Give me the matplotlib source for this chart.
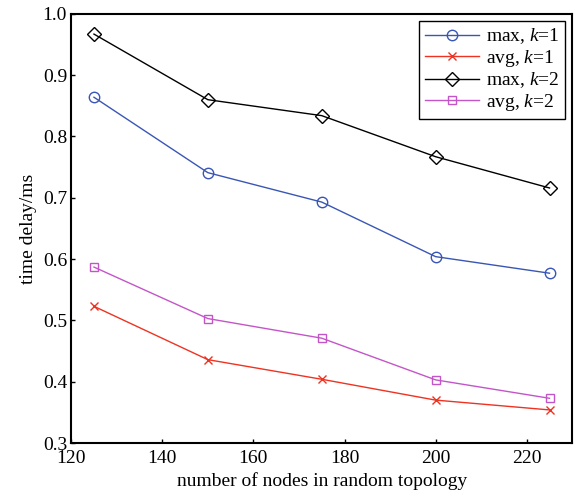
import matplotlib
matplotlib.use("Agg")
import matplotlib.pyplot as plt

# data
nodes = [125, 150, 175, 200, 225]
max_k1 = [0.864, 0.741, 0.693, 0.604, 0.577]
avg_k1 = [0.523, 0.436, 0.404, 0.370, 0.354]
max_k2 = [0.967, 0.860, 0.834, 0.767, 0.716]
avg_k2 = [0.587, 0.503, 0.471, 0.403, 0.373]

plt.rcParams['font.family'] = ['Liberation Serif', 'DejaVu Serif']
plt.rcParams['mathtext.fontset'] = 'custom'
plt.rcParams['mathtext.rm'] = 'Liberation Serif'
plt.rcParams['mathtext.it'] = 'Liberation Serif:italic'

fig = plt.figure(figsize=(5.74, 4.95), dpi=100)
ax = fig.add_axes([0.124, 0.105, 0.873, 0.867])

ax.plot(nodes, max_k1, color='#3a56b5', marker='o', markersize=7.5, markerfacecolor='none',
        linewidth=1.0, label='max, $k$=1')
ax.plot(nodes, avg_k1, color='#ee3322', marker='x', markersize=6,
        linewidth=1.0, label='avg, $k$=1')
ax.plot(nodes, max_k2, color='black', marker='D', markersize=7, markerfacecolor='none',
        linewidth=1.0, label='max, $k$=2')
ax.plot(nodes, avg_k2, color='#c455c8', marker='s', markersize=6.2, markerfacecolor='none',
        linewidth=1.0, label='avg, $k$=2')

ax.set_xlim(120, 230)
ax.set_ylim(0.3, 1.0)
ax.set_xticks([120, 140, 160, 180, 200, 220])
ax.set_yticks([0.3, 0.4, 0.5, 0.6, 0.7, 0.8, 0.9, 1.0])
ax.set_yticklabels([f"{v:.1f}" for v in ax.get_yticks()])
ax.tick_params(direction='in', labelsize=14, length=3, width=1)
ax.tick_params(axis='x', pad=5)
ax.tick_params(axis='y', pad=3)
for s in ax.spines.values():
    s.set_linewidth(1.5)

ax.set_xlabel("number of nodes in random topology", fontsize=14, labelpad=4)
ax.set_ylabel("time delay/ms", fontsize=14)

leg = ax.legend(loc='upper right', fontsize=14, fancybox=False, edgecolor='black',
                framealpha=1, borderaxespad=0.35, handlelength=2.8, labelspacing=0.08,
                borderpad=0.3, handletextpad=0.35)
leg.get_frame().set_linewidth(1.0)

fig.savefig("out.png", dpi=100)
